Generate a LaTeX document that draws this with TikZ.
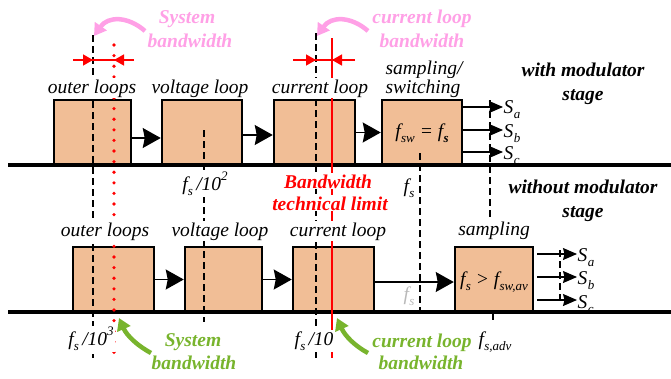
\documentclass[tikz,border=0pt]{standalone}
\usepackage{fontspec}
\setmainfont{Liberation Serif}
\usetikzlibrary{arrows.meta}
\definecolor{peach}{RGB}{241,190,150}
\definecolor{pinkc}{RGB}{255,160,230}
\definecolor{greenc}{RGB}{120,180,45}
\definecolor{lgray}{RGB}{185,185,185}
\newcommand{\lo}[1]{\kern0.3pt\raisebox{-0.28em}{\fontsize{13}{13}\selectfont #1}}
\newcommand{\hi}[1]{\raisebox{0.48em}{\fontsize{13}{13}\selectfont #1}}
\begin{document}
\begin{tikzpicture}[x=1pt,y=-1pt,
  blk/.style={draw=black,line width=2.5pt,fill=peach,minimum height=65pt,inner sep=0pt},
  dsh/.style={draw=black,line width=1.2pt,dash pattern=on 7pt off 4pt},
  reddot/.style={draw=red,line width=3.6pt,line cap=round,dash pattern=on 0pt off 10.6pt},
  redline/.style={draw=red,line width=2.5pt},
  conn/.style={draw=black,line width=1.2pt,-{Stealth[length=18pt,width=20pt,inset=2pt]}},
  outa/.style={draw=black,line width=1.2pt,-{Stealth[length=14pt,width=12pt,inset=1.5pt]}},
  dimar/.style={draw=red,line width=1.5pt,-{Triangle[length=10pt,width=11pt]}},
  pinkar/.style={draw=pinkc,line width=4.5pt,-{Triangle[length=12pt,width=14pt]}},
  greenar/.style={draw=greenc,line width=4.5pt,-{Triangle[length=12pt,width=14pt]}},
  lbl/.style={font=\itshape\fontsize{19.5}{22}\selectfont,fill=white,inner sep=1pt,anchor=base},
  mth/.style={font=\itshape\fontsize{19.5}{22}\selectfont,inner sep=0.5pt,anchor=base},
  bi/.style={font=\bfseries\itshape\fontsize{19.5}{22}\selectfont,inner sep=1pt,anchor=base},
]
\useasboundingbox (0,0) rectangle (671,378);
% boxes top
\node[blk,minimum width=77pt] (b1) at (92.5,132.5) {};
\node[blk,minimum width=80pt] (b2) at (202,132.5) {};
\node[blk,minimum width=81pt] (b3) at (314.5,132.5) {};
\node[blk,minimum width=80pt] (b4) at (422,132.5) {};
% boxes bottom
\node[blk,minimum width=81pt] (c1) at (113.5,279.5) {};
\node[blk,minimum width=77pt] (c2) at (223.5,279.5) {};
\node[blk,minimum width=81pt] (c3) at (333.5,279.5) {};
\node[blk,minimum width=78pt] (c4) at (494,279.5) {};
% baselines
\draw[line width=3.5pt] (8,165) -- (671,165);
\draw[line width=3.5pt] (8,312) -- (671,312);
% vertical marker lines
\draw[dsh] (93,35) -- (93,358);
\draw[reddot] (114,45) -- (114,358);
\draw[dsh] (204,130) -- (204,322);
\draw[dsh] (316,33) -- (316,358);
\draw[redline] (332,38) -- (332,358);
\draw[dsh] (420,153) -- (420,317);
\draw[dsh] (490,100) -- (490,222);
\draw[dsh] (493,313) -- (493,324);
\draw[dsh] (560,250) -- (560,302);
% connectors
\draw[conn] ([yshift=-5.5pt]b1.east) -- ([yshift=-5.5pt]b2.west);
\draw[conn] ([yshift=-2.5pt]b2.east) -- ([yshift=-2.5pt]b3.west);
\draw[conn] (b3.east) -- (b4.west);
\draw[conn] (c1.east) -- (c2.west);
\draw[conn] (c2.east) -- (c3.west);
\draw[conn] ([yshift=-2.5pt]c3.east) -- ([yshift=-2.5pt]c4.west);
% outputs top
\coordinate (ta) at (503,107);
\coordinate (tb) at (503,130);
\coordinate (tc) at (503,152);
\draw[outa] (b4.east |- ta) -- (ta);
\draw[outa] (b4.east |- tb) -- (tb);
\draw[outa] (b4.east |- tc) -- (tc);
\node[mth,anchor=base west] (tsa) at (503,113) {S\lo{a}};
\node[mth,anchor=base west] (tsb) at (503,137) {S\lo{b}};
\node[mth,anchor=base west] (tsc) at (503,159) {S\lo{c}};
% outputs bottom
\coordinate (ba) at (577,254);
\coordinate (bb) at (577,277);
\coordinate (bc) at (577,300);
\draw[outa] ([xshift=3pt]c4.east |- ba) -- (ba);
\draw[outa] ([xshift=3pt]c4.east |- bb) -- (bb);
\draw[outa] ([xshift=3pt]c4.east |- bc) -- (bc);
\node[mth,anchor=base west] (bsa) at (577,261) {S\lo{a}};
\node[mth,anchor=base west] (bsb) at (577,284) {S\lo{b}};
\node[mth,anchor=base west] (bsc) at (577,308) {S\lo{c}};
% box texts
\node[mth] (t4) at (422,137) {f\lo{sw} = f\lo{\bfseries s}};
\node[mth] (t8) at (494,285) {f\lo{s} > f\lo{sw,av}};
% labels top
\node[lbl] (l1) at (92,93) {outer loops};
\node[lbl] (l2) at (200,93) {voltage loop};
\node[lbl] (l3) at (320,93) {current loop};
\node[lbl] (l4a) at (424,74) {sampling/};
\node[lbl] (l4b) at (423,93) {switching};
% labels bottom
\node[lbl] (m1) at (105,236) {outer loops};
\node[lbl] (m2) at (220,236) {voltage loop};
\node[lbl] (m3) at (338,236) {current loop};
\node[lbl] (m4) at (494,235) {sampling};
% frequency labels
\node[lbl] (f2) at (205,190) {f\lo{s}\,/10\hi{2}};
\node[lbl] (fs1) at (409,192) {f\lo{s}};
\node[lbl] (f3) at (91,345) {f\lo{s}\,/10\hi{3}};
\node[lbl] (f1) at (314,345) {f\lo{s}\,/10};
\node[lbl] (fadv) at (495,345) {f\lo{s,adv}};
\node[mth,text=lgray] (fs2) at (409,300) {f\lo{s}};
% stage labels
\node[bi] at (583,76) {with modulator};
\node[bi] at (583,100) {stage};
\node[bi] at (583,193) {without modulator};
\node[bi] at (583,217) {stage};
% technical limit
\node[bi,text=red,fill=white] (tl1) at (328,188) {Bandwidth};
\node[bi,text=red,fill=white] (tl2) at (330,210) {technical limit};
% dimension arrows
\coordinate (d1a) at (73,60); \coordinate (d1b) at (93,60);
\coordinate (d1c) at (134,60); \coordinate (d1d) at (114,60);
\draw[red,line width=1.5pt] (d1a) -- (d1c);
\draw[dimar] (d1a) -- (d1b);
\draw[dimar] (d1c) -- (d1d);
\coordinate (d2a) at (293,60); \coordinate (d2b) at (316,60);
\coordinate (d2c) at (355,60); \coordinate (d2d) at (332,60);
\draw[red,line width=1.5pt] (d2a) -- (d2c);
\draw[dimar] (d2a) -- (d2b);
\draw[dimar] (d2c) -- (d2d);
% pink annotations
\node[bi,text=pinkc] (p1) at (187,23) {System};
\node[bi,text=pinkc] (p2) at (190,47) {bandwidth};
\node[bi,text=pinkc] (p3) at (422,23) {current loop};
\node[bi,text=pinkc] (p4) at (422,47) {bandwidth};
\coordinate (pa0) at (145,31); \coordinate (pa1) at (94,36);
\draw[pinkar] (pa0) .. controls (128,16) and (108,16) .. (pa1);
\coordinate (pb0) at (368,31); \coordinate (pb1) at (317,36);
\draw[pinkar] (pb0) .. controls (351,16) and (331,16) .. (pb1);
% green annotations
\node[bi,text=greenc] (g1) at (193,346) {System};
\node[bi,text=greenc] (g2) at (194,369) {bandwidth};
\node[bi,text=greenc] (g3) at (422,347) {current loop};
\node[bi,text=greenc] (g4) at (421,369) {bandwidth};
\coordinate (ga0) at (151,353); \coordinate (ga1) at (119,318);
\draw[greenar] (ga0) .. controls (138,346) and (127,336) .. (ga1);
\coordinate (gb0) at (368,353); \coordinate (gb1) at (337,318);
\draw[greenar] (gb0) .. controls (355,346) and (345,336) .. (gb1);
\end{tikzpicture}
\end{document}
